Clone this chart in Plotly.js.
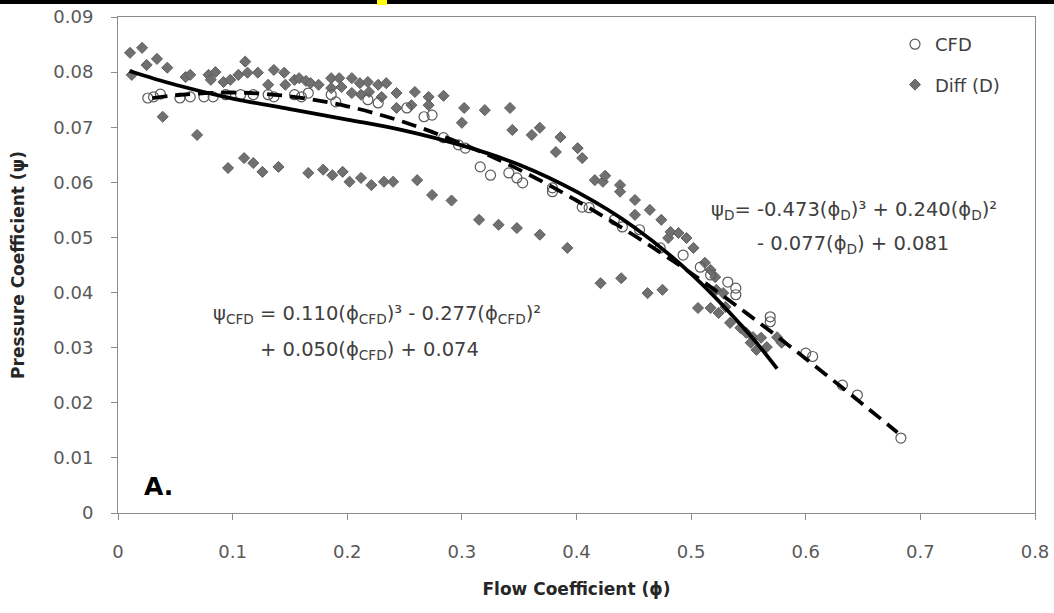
<!DOCTYPE html>
<html>
<head>
<meta charset="utf-8">
<script src="https://cdn.plot.ly/plotly-3.0.1.min.js"></script>
<style>
  html, body { margin: 0; padding: 0; background: #ffffff; }
  #chart { width: 1054px; height: 613px; }
</style>
</head>
<body>
<div id="chart"></div>
<script>
// ---- Data ----
const cfdX = [0.026,0.031,0.037,0.054,0.063,0.075,0.083,0.094,0.107,0.118,0.131,0.136,0.154,0.160,0.166,0.186,0.190,0.218,0.227,0.252,0.267,0.274,0.284,0.297,0.303,0.316,0.325,0.341,0.348,0.353,0.379,0.379,0.405,0.411,0.433,0.440,0.455,0.473,0.493,0.508,0.517,0.532,0.539,0.539,0.569,0.569,0.600,0.606,0.632,0.645,0.683];
const cfdY = [0.0753,0.0755,0.0760,0.0753,0.0755,0.0755,0.0755,0.0759,0.0759,0.0759,0.0759,0.0755,0.0759,0.0755,0.0762,0.0759,0.0746,0.0750,0.0744,0.0735,0.0719,0.0722,0.0681,0.0668,0.0662,0.0628,0.0613,0.0617,0.0608,0.0599,0.0590,0.0583,0.0555,0.0554,0.0532,0.0519,0.0514,0.0481,0.0468,0.0446,0.0432,0.0419,0.0408,0.0396,0.0356,0.0347,0.0290,0.0284,0.0232,0.0214,0.0136];

const diffX = [0.0105,0.012,0.021,0.025,0.034,0.039,0.043,0.059,0.063,0.069,0.079,0.081,0.085,0.092,0.096,0.098,0.105,0.110,0.111,0.113,0.118,0.122,0.126,0.131,0.136,0.140,0.145,0.146,0.154,0.158,0.164,0.166,0.168,0.175,0.179,0.186,0.186,0.187,0.193,0.195,0.196,0.202,0.204,0.204,0.211,0.212,0.212,0.218,0.219,0.221,0.227,0.230,0.232,0.234,0.240,0.243,0.243,0.256,0.259,0.261,0.271,0.271,0.274,0.284,0.291,0.300,0.302,0.315,0.320,0.332,0.342,0.344,0.348,0.361,0.368,0.368,0.382,0.386,0.392,0.401,0.405,0.416,0.421,0.423,0.425,0.438,0.438,0.439,0.451,0.451,0.462,0.464,0.474,0.475,0.480,0.482,0.489,0.496,0.502,0.506,0.512,0.517,0.517,0.521,0.522,0.524,0.528,0.530,0.534,0.543,0.548,0.552,0.554,0.557,0.561,0.566,0.575,0.579];
const diffY = [0.0835,0.0795,0.0844,0.0813,0.0824,0.0719,0.0808,0.0791,0.0795,0.0686,0.0795,0.0786,0.0800,0.0782,0.0626,0.0786,0.0795,0.0644,0.0819,0.0799,0.0635,0.0799,0.0619,0.0777,0.0804,0.0628,0.0799,0.0777,0.0786,0.0789,0.0784,0.0617,0.0780,0.0777,0.0623,0.0789,0.0771,0.0613,0.0789,0.0773,0.0619,0.0601,0.0789,0.0762,0.0780,0.0759,0.0608,0.0782,0.0764,0.0595,0.0777,0.0755,0.0601,0.0780,0.0601,0.0762,0.0735,0.0740,0.0764,0.0604,0.0755,0.0740,0.0577,0.0757,0.0567,0.0708,0.0735,0.0532,0.0731,0.0523,0.0735,0.0695,0.0517,0.0686,0.0699,0.0505,0.0655,0.0682,0.0481,0.0662,0.0644,0.0604,0.0417,0.0601,0.0612,0.0595,0.0583,0.0426,0.0568,0.0541,0.0399,0.0550,0.0532,0.0405,0.0499,0.0510,0.0508,0.0499,0.0481,0.0372,0.0454,0.0441,0.0372,0.0428,0.0405,0.0363,0.0399,0.0374,0.0345,0.0336,0.0327,0.0309,0.0319,0.0296,0.0318,0.0301,0.0319,0.0309];

// trend curves
const diffFitX = [0.01,0.05,0.10,0.15,0.20,0.25,0.30,0.35,0.40,0.45,0.50,0.55,0.575];
const diffFitY = [0.0802,0.0777,0.0752,0.0733,0.0714,0.0694,0.0667,0.0632,0.0583,0.0519,0.0434,0.0326,0.0262];
const cfdFitX = [0.03,0.05,0.10,0.15,0.20,0.25,0.30,0.35,0.40,0.45,0.50,0.55,0.60,0.65,0.68];
const cfdFitY = [0.0753,0.0758,0.0763,0.0756,0.0738,0.0709,0.0670,0.0623,0.0567,0.0504,0.0435,0.0360,0.0280,0.0197,0.0146];

const xTitle = 'Flow Coefficient (ϕ)';
const yTitle = 'Pressure Coefficient (ψ)';
const seriesNames = ['CFD', 'Diff (D)'];
const eqD1 = 'ψ<sub>D</sub>= -0.473(ϕ<sub>D</sub>)³ + 0.240(ϕ<sub>D</sub>)²';
const eqD2 = '- 0.077(ϕ<sub>D</sub>) + 0.081';
const eqC1 = 'ψ<sub>CFD</sub> = 0.110(ϕ<sub>CFD</sub>)³ - 0.277(ϕ<sub>CFD</sub>)²';
const eqC2 = '+ 0.050(ϕ<sub>CFD</sub>) + 0.074';
const panelLabel = 'A.';

// ---- Layout geometry (pixels) ----
const W = 1054, H = 613;
const M = {l: 118, r: 19, t: 17, b: 100};
const PW = W - M.l - M.r, PH = H - M.t - M.b;
const px = x => (x - M.l) / PW;      // pixel -> paper x
const py = y => (H - M.b - y) / PH;  // pixel -> paper y

const FONT = 'DejaVu Sans, sans-serif';
const AX = '#8c8c8c';

const traces = [
  {
    x: diffX, y: diffY, type: 'scatter', mode: 'markers', name: seriesNames[1],
    legendgroup: 'b', legendrank: 2,
    marker: {symbol: 'diamond', size: 8.5, color: '#707070', line: {color: '#5e5e5e', width: 1}}
  },
  {
    x: cfdX, y: cfdY, type: 'scatter', mode: 'markers', name: seriesNames[0],
    legendgroup: 'a', legendrank: 1,
    marker: {symbol: 'circle-open', size: 10, color: '#5a5a5a', line: {color: '#5a5a5a', width: 1.2}}
  },
  {
    x: diffFitX, y: diffFitY, type: 'scatter', mode: 'lines', showlegend: false,
    line: {color: '#000000', width: 3.8, shape: 'spline'}
  },
  {
    x: cfdFitX, y: cfdFitY, type: 'scatter', mode: 'lines', showlegend: false,
    line: {color: '#000000', width: 3.8, shape: 'spline', dash: '15px,8px'}
  }
];

const eqFont = {family: FONT, size: 19.5, color: '#404040'};

const layout = {
  width: W, height: H,
  margin: M,
  paper_bgcolor: '#ffffff', plot_bgcolor: '#ffffff',
  font: {family: FONT, color: '#595959'},
  showlegend: true,
  legend: {
    x: px(895), y: py(26), xanchor: 'left', yanchor: 'top',
    bgcolor: 'rgba(0,0,0,0)', borderwidth: 0,
    font: {family: FONT, size: 18, color: '#404040'},
    traceorder: 'grouped', tracegroupgap: 14
  },
  xaxis: {
    range: [0, 0.8], dtick: 0.1, tick0: 0,
    showgrid: false, zeroline: false,
    showline: true, linecolor: AX, linewidth: 1, mirror: true,
    ticks: 'outside', ticklen: 6, tickcolor: AX, tickwidth: 1,
    ticklabelstandoff: 16,
    tickfont: {family: FONT, size: 18, color: '#595959'},
    title: {text: xTitle, standoff: 22, font: {family: FONT, size: 17, color: '#262626', weight: 'bold'}}
  },
  yaxis: {
    range: [0, 0.09], dtick: 0.01, tick0: 0,
    showgrid: false, zeroline: false,
    showline: true, linecolor: AX, linewidth: 1, mirror: true,
    ticks: 'outside', ticklen: 6, tickcolor: AX, tickwidth: 1,
    ticklabelstandoff: 14,
    tickfont: {family: FONT, size: 18, color: '#595959'},
    title: {text: yTitle, standoff: 24, font: {family: FONT, size: 17, color: '#262626', weight: 'bold'}}
  },
  annotations: [
    {xref: 'paper', yref: 'paper', x: px(854), y: py(210), text: eqD1, showarrow: false, xanchor: 'center', yanchor: 'middle', font: eqFont},
    {xref: 'paper', yref: 'paper', x: px(853), y: py(244), text: eqD2, showarrow: false, xanchor: 'center', yanchor: 'middle', font: eqFont},
    {xref: 'paper', yref: 'paper', x: px(377), y: py(314), text: eqC1, showarrow: false, xanchor: 'center', yanchor: 'middle', font: eqFont},
    {xref: 'paper', yref: 'paper', x: px(369), y: py(350), text: eqC2, showarrow: false, xanchor: 'center', yanchor: 'middle', font: eqFont},
    {xref: 'paper', yref: 'paper', x: px(142), y: py(486), text: panelLabel, showarrow: false, xanchor: 'left', yanchor: 'middle',
     font: {family: FONT, size: 25, color: '#000000', weight: 'bold'}}
  ],
  shapes: [
    {type: 'rect', xref: 'paper', yref: 'paper', x0: px(0), x1: px(W), y0: py(0), y1: py(4), fillcolor: '#000000', line: {width: 0}, layer: 'above'},
    {type: 'rect', xref: 'paper', yref: 'paper', x0: px(377), x1: px(387), y0: py(0), y1: py(5), fillcolor: '#ffff00', line: {width: 0}, layer: 'above'}
  ]
};

Plotly.newPlot('chart', traces, layout, {displayModeBar: false, staticPlot: true});
</script>
</body>
</html>
